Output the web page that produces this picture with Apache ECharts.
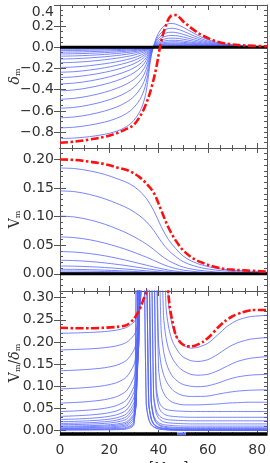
<!DOCTYPE html>
<html><head><meta charset="utf-8">
<script src="https://cdn.jsdelivr.net/npm/echarts@6/dist/echarts.min.js"></script>
<style>html,body{margin:0;padding:0;background:#fff}#c{width:270px;height:463px}</style>
</head><body><div id="c"></div>
<script>
// ---------- data ----------
const xTickValues = [0, 20, 40, 60, 80];

// panel 1: delta_m
const X1 = [0, 6, 12, 18, 23, 27, 30, 33, 35, 37, 39, 41, 43, 45, 47, 50, 54, 58, 63, 68, 75, 84];
const deltaBlue = [
  [-0.008,-0.0078,-0.0072,-0.0064,-0.0055,-0.0046,-0.0038,-0.0027,-0.0017,-0.0004,0.0003,0.0007,0.0008,0.0009,0.0009,0.0009,0.0007,0.0005,0.0003,0.0002,0.0001,0],
  [-0.018,-0.0175,-0.0162,-0.0144,-0.0124,-0.0104,-0.0086,-0.0061,-0.0038,-0.0009,0.0007,0.0015,0.0019,0.0021,0.0021,0.002,0.0016,0.0012,0.0008,0.0005,0.0002,0.0001],
  [-0.03,-0.029,-0.027,-0.024,-0.021,-0.017,-0.014,-0.010,-0.006,-0.0015,0.0012,0.0026,0.0032,0.0035,0.0035,0.0033,0.0027,0.002,0.0013,0.0008,0.0004,0.0002],
  [-0.045,-0.0437,-0.0405,-0.036,-0.0312,-0.0262,-0.0218,-0.0155,-0.0096,-0.0023,0.0018,0.0039,0.0048,0.0053,0.0054,0.005,0.0041,0.003,0.0019,0.0011,0.0005,0.0002],
  [-0.062,-0.0601,-0.0559,-0.0498,-0.043,-0.0363,-0.0301,-0.0215,-0.0133,-0.0032,0.0025,0.0054,0.0067,0.0073,0.0075,0.0069,0.0056,0.0042,0.0026,0.0016,0.0007,0.0003],
  [-0.083,-0.0806,-0.0749,-0.0668,-0.0579,-0.0489,-0.0407,-0.029,-0.0181,-0.0043,0.0035,0.0073,0.009,0.0099,0.0101,0.0094,0.0076,0.0056,0.0036,0.0021,0.001,0.0004],
  [-0.11,-0.1068,-0.0994,-0.0888,-0.0771,-0.0652,-0.0545,-0.039,-0.0244,-0.0057,0.0047,0.0099,0.0123,0.0134,0.0136,0.0127,0.0102,0.0075,0.0047,0.0028,0.0013,0.0006],
  [-0.145,-0.141,-0.1314,-0.1176,-0.1024,-0.087,-0.0728,-0.0526,-0.0332,-0.0077,0.0064,0.0135,0.0167,0.0181,0.0184,0.0171,0.0138,0.01,0.0062,0.0038,0.0017,0.0007],
  [-0.19,-0.1849,-0.1725,-0.155,-0.1357,-0.1159,-0.0975,-0.0711,-0.0452,-0.0105,0.0087,0.0184,0.0228,0.0247,0.0251,0.023,0.0184,0.0133,0.0084,0.0049,0.0023,0.001],
  [-0.235,-0.2289,-0.2141,-0.1932,-0.1699,-0.1459,-0.1236,-0.0909,-0.0585,-0.0134,0.0115,0.0237,0.0296,0.032,0.0324,0.0296,0.0235,0.0169,0.0106,0.0061,0.0031,0.0012],
  [-0.285,-0.2779,-0.2608,-0.2363,-0.2092,-0.181,-0.1542,-0.1149,-0.0744,-0.0171,0.0145,0.0305,0.0379,0.0408,0.041,0.0373,0.0294,0.0208,0.0128,0.0077,0.0037,0.0014],
  [-0.345,-0.3367,-0.3174,-0.2895,-0.2581,-0.2256,-0.1935,-0.1463,-0.0963,-0.0217,0.019,0.0393,0.049,0.0524,0.0528,0.0476,0.0373,0.0262,0.0162,0.0097,0.0045,0.0017],
  [-0.41,-0.401,-0.3797,-0.3489,-0.3141,-0.2768,-0.2399,-0.1841,-0.1226,-0.0271,0.0246,0.0504,0.0627,0.0668,0.0668,0.0599,0.0463,0.0324,0.0197,0.0115,0.0053,0.0021],
  [-0.49,-0.4807,-0.4577,-0.4248,-0.3866,-0.3455,-0.3028,-0.2362,-0.1597,-0.0353,0.0323,0.0657,0.0818,0.0872,0.0867,0.0769,0.0588,0.0407,0.0245,0.0142,0.0069,0.0025],
  [-0.575,-0.5658,-0.5428,-0.5089,-0.4692,-0.4249,-0.3766,-0.2996,-0.2059,-0.0443,0.042,0.0851,0.1058,0.1121,0.111,0.0978,0.0736,0.05,0.0299,0.0173,0.0081,0.0035],
  [-0.665,-0.6564,-0.6344,-0.6018,-0.5626,-0.5167,-0.4642,-0.3751,-0.262,-0.0559,0.0539,0.1084,0.1357,0.143,0.1403,0.123,0.0918,0.0618,0.0359,0.0213,0.01,0.004],
  [-0.76,-0.7532,-0.7342,-0.706,-0.6696,-0.624,-0.567,-0.4666,-0.3298,-0.0699,0.0684,0.1368,0.171,0.1801,0.1763,0.1528,0.1125,0.0745,0.0433,0.0251,0.0114,0.0046],
  [-0.86,-0.8557,-0.8428,-0.8213,-0.7912,-0.7482,-0.688,-0.5762,-0.4128,-0.086,0.086,0.172,0.215,0.2253,0.2193,0.1892,0.1376,0.0903,0.0516,0.0301,0.0138,0.0052]
];
const deltaRed = [-0.9,-0.89,-0.87,-0.845,-0.81,-0.77,-0.73,-0.63,-0.53,-0.39,-0.2,0.05,0.21,0.297,0.305,0.245,0.17,0.11,0.06,0.033,0.018,0.01];

// panel 2: V_m
const X2 = [0, 6, 12, 18, 24, 28, 32, 35, 38, 41, 44, 47, 50, 54, 58, 63, 68, 75, 84];
const velBlue = [
  [0.185,0.184,0.18,0.174,0.165,0.158,0.146,0.132,0.111,0.083,0.06,0.044,0.031,0.021,0.015,0.01,0.007,0.005,0.003],
  [0.145,0.1436,0.1388,0.1314,0.1214,0.1135,0.1025,0.0914,0.0761,0.057,0.0412,0.030,0.0212,0.0144,0.010,0.0067,0.0046,0.0032,0.0019],
  [0.101,0.0993,0.0944,0.087,0.0771,0.0694,0.0601,0.0521,0.0427,0.0321,0.0232,0.0168,0.0118,0.0079,0.0055,0.0034,0.0023,0.0016,0.0009],
  [0.0646,0.0632,0.0596,0.0539,0.0465,0.0408,0.0343,0.0292,0.0236,0.0178,0.0129,0.0092,0.0065,0.0043,0.0029,0.0018,0.0012,0.0008,0.0005],
  [0.039,0.038,0.0355,0.0316,0.0265,0.0226,0.0183,0.0152,0.0121,0.0092,0.0066,0.0047,0.0033,0.0021,0.0014,0.0009,0.0005,0.0004,0.0002],
  [0.0237,0.0231,0.0216,0.0192,0.0161,0.0137,0.0111,0.0092,0.0073,0.0056,0.004,0.0028,0.002,0.0013,0.0009,0.0005,0.0003,0.0002,0.0001],
  [0.0137,0.0134,0.0125,0.0111,0.0093,0.0079,0.0064,0.0053,0.0042,0.0032,0.0023,0.0016,0.0012,0.0008,0.0005,0.0003,0.0002,0.0001,0.0001],
  [0.008,0.0078,0.0073,0.0065,0.0054,0.0046,0.0038,0.0031,0.0025,0.0019,0.0014,0.001,0.0007,0.0004,0.0003,0.0002,0.0001,0.0001,0],
  [0.005,0.0049,0.0046,0.0041,0.0034,0.0029,0.0024,0.002,0.0016,0.0012,0.0009,0.0006,0.0004,0.0003,0.0002,0.0001,0.0001,0,0],
  [0.0026,0.0025,0.0024,0.0021,0.0018,0.0015,0.0012,0.001,0.0008,0.0006,0.0004,0.0003,0.0002,0.0001,0.0001,0.0001,0,0,0]
];
const velRed = [0.2,0.199,0.196,0.192,0.185,0.18,0.17,0.158,0.142,0.112,0.081,0.058,0.041,0.027,0.019,0.012,0.008,0.006,0.004];

// panel 3: V_m / delta_m
const X3 = [0,6,12,18,23,27,30,31,32,33,34,35,36,37,38,39,40,41,42,43,44,45,46,48,50,53,56,60,64,68,72,77,84];
const ratioBlue = [
  [0.001,0.0011,0.0012,0.0015,0.002,0.0033,0.0132,0.5,null,null,0.5,0.06,0.025,0.013,0.008,0.005,0.0035,0.0025,0.002,0.0015,0.001,0.0008,0.0006,0.0004,0.0003,0.0003,0.0003,0.0003,0.0003,0.0003,0.0003,0.0003,0.0003],
  [0.002,0.0021,0.0023,0.0027,0.0034,0.0053,0.0165,0.5,null,null,0.5,0.061,0.026,0.014,0.009,0.006,0.004,0.003,0.0027,0.0022,0.0017,0.0015,0.0013,0.001,0.0007,0.0007,0.0007,0.0007,0.0007,0.0007,0.0007,0.0007,0.0007],
  [0.003,0.0032,0.0034,0.0039,0.0048,0.0071,0.019,0.103,0.6,null,null,0.5,0.061,0.026,0.014,0.009,0.0062,0.0047,0.0037,0.0032,0.0027,0.0022,0.002,0.0016,0.0014,0.0012,0.0012,0.0012,0.0012,0.0012,0.0012,0.0012,0.0012],
  [0.0045,0.0047,0.0051,0.0058,0.0071,0.0104,0.025,0.0785,0.6,null,null,0.5,0.062,0.027,0.015,0.01,0.007,0.0055,0.0045,0.004,0.0035,0.003,0.0028,0.0024,0.0022,0.002,0.002,0.002,0.002,0.002,0.002,0.002,0.002],
  [0.006,0.0063,0.0068,0.0077,0.0094,0.0134,0.0297,0.0714,0.6,null,null,0.5,0.063,0.028,0.016,0.011,0.008,0.0065,0.0055,0.005,0.0045,0.004,0.0038,0.0034,0.0032,0.003,0.003,0.003,0.003,0.003,0.003,0.003,0.003],
  [0.008,0.0084,0.009,0.0101,0.0121,0.0168,0.0342,0.0689,0.6,null,null,null,0.5,0.0645,0.0295,0.0175,0.0125,0.0095,0.008,0.007,0.0065,0.006,0.0055,0.005,0.0048,0.0046,0.0045,0.0045,0.0045,0.0045,0.0045,0.0045,0.0045],
  [0.01,0.0104,0.0111,0.0124,0.0148,0.0201,0.0381,0.0681,0.6,null,null,null,0.5,0.0665,0.0315,0.0195,0.0145,0.0115,0.01,0.009,0.0085,0.008,0.0075,0.007,0.0068,0.0066,0.0065,0.0065,0.0065,0.0065,0.0065,0.0065,0.0065],
  [0.013,0.0136,0.0145,0.0161,0.0192,0.0259,0.0469,0.0772,0.413,null,null,null,0.5,0.07,0.035,0.023,0.018,0.015,0.0135,0.0125,0.012,0.0115,0.011,0.0105,0.0102,0.01,0.01,0.01,0.01,0.01,0.01,0.01,0.01],
  [0.016,0.0167,0.0178,0.0199,0.0236,0.0314,0.0546,0.0843,0.263,0.9,null,null,null,0.5,0.075,0.04,0.028,0.023,0.02,0.0185,0.0175,0.017,0.0165,0.016,0.0155,0.015,0.015,0.015,0.015,0.015,0.015,0.015,0.015],
  [0.02,0.0208,0.0221,0.0245,0.0288,0.0377,0.0625,0.0913,0.216,0.9,null,null,null,0.5,0.082,0.047,0.035,0.03,0.027,0.0255,0.0245,0.024,0.0235,0.023,0.0225,0.022,0.022,0.022,0.022,0.022,0.022,0.022,0.022],
  [0.025,0.026,0.0276,0.0306,0.0357,0.0463,0.074,0.1038,0.208,0.9,null,null,null,null,0.5,0.09,0.055,0.043,0.038,0.035,0.0335,0.0325,0.032,0.031,0.0305,0.03,0.03,0.03,0.03,0.03,0.03,0.03,0.03],
  [0.032,0.0332,0.0351,0.0385,0.0445,0.0565,0.0865,0.1165,0.2065,0.9,null,null,null,null,0.5,0.103,0.068,0.056,0.051,0.048,0.0465,0.0455,0.045,0.044,0.0435,0.043,0.043,0.043,0.043,0.043,0.043,0.043,0.043],
  [0.043,0.0443,0.0464,0.0501,0.0566,0.0692,0.0995,0.1279,0.2036,1.0,null,null,null,null,null,0.45,0.14,0.1,0.085,0.076,0.07,0.066,0.063,0.06,0.058,0.058,0.058,0.059,0.06,0.062,0.063,0.064,0.064],
  [0.062,0.0634,0.0657,0.0697,0.0766,0.0898,0.1201,0.1471,0.2126,0.6,null,null,null,null,null,0.5,0.2,0.15,0.127,0.113,0.103,0.096,0.09,0.083,0.079,0.077,0.077,0.078,0.082,0.086,0.089,0.091,0.092],
  [0.094,0.0954,0.0976,0.1015,0.1082,0.1208,0.1486,0.172,0.225,0.454,null,null,null,null,null,null,0.5,0.23,0.18,0.155,0.139,0.128,0.12,0.11,0.104,0.1,0.099,0.101,0.107,0.115,0.121,0.125,0.127],
  [0.135,0.1363,0.1383,0.1417,0.1476,0.1585,0.1817,0.2005,0.24,0.379,null,null,null,null,null,null,null,0.5,0.26,0.21,0.185,0.17,0.159,0.144,0.135,0.127,0.125,0.127,0.135,0.146,0.156,0.163,0.167],
  [0.182,0.183,0.1844,0.187,0.1912,0.199,0.2151,0.2276,0.2526,0.3276,0.8,null,null,null,null,null,null,null,0.5,0.28,0.236,0.212,0.197,0.178,0.166,0.158,0.156,0.16,0.172,0.187,0.198,0.206,0.21],
  [0.2195,0.2203,0.2214,0.2234,0.2267,0.2327,0.2446,0.2535,0.2705,0.316,0.82,null,null,null,null,null,null,null,null,0.5,0.29,0.252,0.229,0.205,0.193,0.186,0.188,0.197,0.216,0.236,0.249,0.257,0.26]
];
const ratioRedX = [0,6,12,18,23,27,30,32,33,34,35,36,37,40,43.5,44.5,45.5,47,49,51,53,55,58,61,64,67,70,74,78,84];
const ratioRedY = [0.232,0.231,0.231,0.232,0.234,0.238,0.252,0.27,0.283,0.298,0.312,0.33,0.36,null,0.34,0.28,0.25,0.215,0.198,0.191,0.19,0.192,0.2,0.214,0.232,0.247,0.258,0.267,0.272,0.272];
const baseX3 = [0, 47.5, 48, 51, 84];
const baseY3 = [-0.007, -0.007, null, -0.007, -0.007];
const gapX3 = [47.5, 51];
const gapY3 = [-0.007, -0.007];
const zeroX = [0, 84];
const zeroY = [0, 0];

const yTicks1 = [0.4, 0.2, 0, -0.2, -0.4, -0.6, -0.8];
const yTicks2 = [0, 0.05, 0.1, 0.15, 0.2];
const yTicks3 = [0, 0.05, 0.1, 0.15, 0.2, 0.25, 0.3];

// ---------- chart ----------
const AX = '#555';
const FONT = 'DejaVu Sans';
const BLUE = '#5566ff';
const gridBase = {left: 60, right: 3, containLabel: false, outerBoundsMode: 'none'};
const grids = [
  Object.assign({top: 5, height: 143}, gridBase),
  Object.assign({top: 148, height: 143}, gridBase),
  Object.assign({top: 291, height: 144}, gridBase)
];

function xAxesFor(gi, showLabels) {
  const common = {
    gridIndex: gi, type: 'value', min: 0, max: 84, interval: 20,
    axisLine: {show: true, onZero: false, lineStyle: {color: AX, width: 1}},
    axisTick: {show: true, inside: true, length: 5, lineStyle: {color: AX}},
    minorTick: {show: true, splitNumber: 4, length: 3, lineStyle: {color: AX}},
    splitLine: {show: false}, minorSplitLine: {show: false}
  };
  const bottom = Object.assign({}, common, {
    position: 'bottom',
    axisLabel: {show: showLabels, color: '#333', fontFamily: FONT, fontSize: 14, margin: 8,
      customValues: xTickValues}
  });
  if (showLabels) {
    bottom.name = 'r [Mpc]';
    bottom.nameLocation = 'middle';
    bottom.nameGap = 26;
    bottom.nameMoveOverlap = false;
    bottom.nameTextStyle = {color: '#333', fontFamily: FONT, fontSize: 14, verticalAlign: 'top'};
  }
  const top = Object.assign({}, common, {position: 'top', axisLabel: {show: false}});
  return [bottom, top];
}

function yAxesFor(gi, min, max, minorStep, majors, fmt, name, rich) {
  const line = {show: true, onZero: false, lineStyle: {color: AX, width: 1}};
  const res = [];
  ['left', 'right'].forEach(pos => {
    res.push({
      gridIndex: gi, type: 'value', position: pos, min: min, max: max, interval: minorStep,
      axisLine: line,
      axisTick: {show: true, inside: true, length: 3, lineStyle: {color: AX}},
      axisLabel: pos === 'left' ? {show: true, customValues: majors, formatter: fmt, color: '#333',
        fontFamily: FONT, fontSize: 14, margin: 6, rich: {t: {padding: [14, 0, 0, 0]}}} : {show: false},
      splitLine: {show: false},
      name: pos === 'left' ? name : '',
      nameLocation: 'middle', nameGap: 38, nameRotate: 90, nameMoveOverlap: false,
      nameTextStyle: {rich: rich}
    });
    res.push({
      gridIndex: gi, type: 'value', position: pos, min: min, max: max,
      axisLine: {show: false},
      axisTick: {show: true, inside: true, length: 6, customValues: majors, lineStyle: {color: AX}},
      axisLabel: {show: false}, splitLine: {show: false}
    });
  });
  return res;
}

const nameRich = {
  a: {fontFamily: 'DejaVu Serif', fontSize: 14, color: '#333'},
  g: {fontFamily: 'DejaVu Serif', fontSize: 14, color: '#333', fontStyle: 'italic'},
  s: {fontFamily: 'DejaVu Serif', fontSize: 8, color: '#333', verticalAlign: 'bottom', padding: [6, 0, 0, 0]}
};
function fmt1(v) {
  const t = (v < -1e-9 ? '\u2212' : '') + Math.abs(v).toFixed(1);
  return Math.abs(v - 0.4) < 1e-9 ? '{t|' + t + '}' : t;
}
function fmt2(v) { return Math.abs(v).toFixed(2); }

const xAxis = [].concat(xAxesFor(0, false), xAxesFor(1, false), xAxesFor(2, true));
const yAxis = [].concat(
  yAxesFor(0, -0.95, 0.4, 0.05, yTicks1, fmt1, '{g|\u03B4}{s|m}', nameRich),
  yAxesFor(1, -0.03, 0.22, 0.01, yTicks2, fmt2, '{a|V}{s|m}', nameRich),
  yAxesFor(2, -0.01, 0.315, 0.01, yTicks3, fmt2, '{a|V}{s|m}{a|/}{g|\u03B4}{s|m}', nameRich)
);

function pts(xs, ys) { return xs.map((x, i) => [x, ys[i] == null ? '-' : ys[i]]); }
const series = [];
function add(gi, xs, ys, style, smooth, z) {
  series.push({type: 'line', xAxisIndex: gi * 2, yAxisIndex: gi * 4, data: pts(xs, ys),
    symbol: 'none', showSymbol: false, smooth: smooth, lineStyle: style, silent: true,
    connectNulls: false, z: z, animation: false, clip: true});
}
const blueStyle = {color: BLUE, width: 0.8};
const redStyle = {color: '#ff1010', width: 2.6, type: [8, 2.5, 2.5, 2.5]};
const blackStyle = {color: '#000', width: 3};

deltaBlue.forEach(r => add(0, X1, r, blueStyle, 0.35, 2));
add(0, zeroX, zeroY, blackStyle, false, 3);
add(0, X1, deltaRed, redStyle, 0.35, 4);

velBlue.forEach(r => add(1, X2, r, blueStyle, 0.35, 2));
add(1, zeroX, zeroY, blackStyle, false, 3);
add(1, X2, velRed, redStyle, 0.35, 4);

ratioBlue.forEach(r => add(2, X3, r, blueStyle, 0.25, 2));
add(2, baseX3, baseY3, blackStyle, false, 3);
add(2, gapX3, gapY3, {color: BLUE, width: 2.5}, false, 3);
add(2, ratioRedX, ratioRedY, redStyle, 0.25, 4);

const chart = echarts.init(document.getElementById('c'), null, {renderer: 'canvas'});
chart.setOption({
  animation: false,
  backgroundColor: '#fff',
  textStyle: {fontFamily: FONT},
  grid: grids,
  xAxis: xAxis,
  yAxis: yAxis,
  series: series
});
</script>
</body></html>
